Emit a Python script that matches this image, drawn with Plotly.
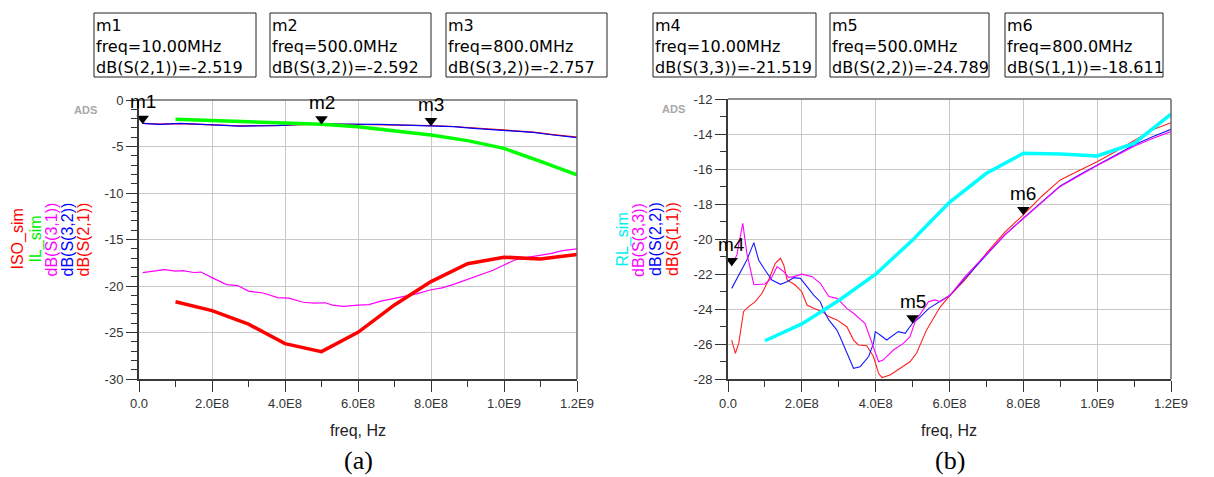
import numpy as np
import plotly.graph_objects as go

W, H = 1214, 477
FONT = "Arial, Liberation Sans, sans-serif"

# ---------------- panel (a): transmission / isolation ----------------
# frequencies in MHz
f_thin_a = [10, 58, 112, 213, 277, 377, 441, 500, 532, 660, 800, 861, 916, 1000, 1080, 1135, 1200]
s21_a = [-2.519, -2.60, -2.53, -2.66, -2.78, -2.74, -2.64, -2.60, -2.58, -2.64, -2.76, -2.85, -3.02, -3.20, -3.45, -3.72, -4.00]
s32_a = [-2.52, -2.62, -2.51, -2.69, -2.80, -2.76, -2.62, -2.592, -2.58, -2.62, -2.757, -2.87, -3.05, -3.23, -3.48, -3.76, -4.05]

f_s31 = [10, 30, 70, 100, 120, 150, 170, 200, 240, 270, 300, 340, 380, 410, 450, 480, 510,
         530, 560, 600, 630, 660, 700, 730, 760, 800, 830, 860, 900, 940, 970, 1000, 1030,
         1060, 1100, 1130, 1160, 1200]
s31_a = [-18.57, -18.45, -18.25, -18.40, -18.35, -18.55, -18.50, -19.10, -19.85, -19.95, -20.55,
         -20.75, -21.25, -21.30, -21.75, -21.85, -21.80, -22.05, -22.20, -22.05, -22.00, -21.65,
         -21.30, -21.10, -20.85, -20.40, -20.20, -19.85, -19.30, -18.70, -18.30, -17.75, -17.20,
         -16.95, -16.70, -16.50, -16.20, -16.00]

f_sim = [100, 200, 300, 400, 500, 600, 700, 800, 900, 1000, 1100, 1200]
il_sim = [-2.08, -2.20, -2.30, -2.45, -2.60, -2.87, -3.33, -3.76, -4.37, -5.20, -6.60, -8.06]
iso_sim = [-21.70, -22.65, -24.10, -26.20, -27.06, -24.98, -22.04, -19.53, -17.60, -16.90, -17.10, -16.60]

# ---------------- panel (b): return loss ----------------
f_s11 = [10, 20, 29, 42, 56, 74, 92, 110, 128, 142, 151, 160, 182, 200, 214, 232, 255, 273, 295,
         322, 340, 353, 376, 394, 408, 417, 439, 466, 493, 511, 538, 575, 602, 642, 700, 750, 800,
         850, 900, 950, 1000, 1050, 1100, 1150, 1200]
s11_b = [-25.76, -26.52, -25.95, -24.14, -23.85, -23.57, -23.09, -22.33, -21.38, -21.09, -21.47,
         -22.33, -22.62, -23.00, -23.76, -23.95, -24.14, -24.42, -24.61, -25.00, -25.76, -26.04,
         -26.08, -26.70, -27.66, -27.90, -27.75, -27.38, -27.00, -26.50, -25.18, -23.86, -23.19,
         -22.33, -20.80, -19.60, -18.611, -17.55, -16.62, -16.10, -15.58, -15.00, -14.40, -13.75,
         -13.35]

f_s22 = [10, 29, 51, 70, 83, 97, 119, 142, 160, 178, 196, 214, 232, 250, 259, 273, 295, 304, 322,
         340, 358, 381, 394, 399, 412, 430, 461, 480, 500, 517, 544, 566, 584, 602, 642, 700, 750,
         800, 850, 900, 950, 1000, 1050, 1100, 1150, 1200]
s22_b = [-22.81, -22.05, -21.19, -20.20, -21.19, -21.66, -22.33, -22.58, -22.43, -22.20, -22.24,
         -22.71, -23.19, -23.57, -24.04, -24.61, -25.19, -25.60, -26.50, -27.37, -27.28, -26.70,
         -25.95, -25.28, -25.47, -25.76, -25.28, -25.38, -24.789, -24.52, -23.95, -23.66, -23.47,
         -23.19, -22.24, -20.90, -19.75, -18.80, -17.90, -16.97, -16.35, -15.77, -15.20, -14.63,
         -14.15, -13.73]

f_s33 = [10, 24, 40, 51, 70, 100, 117, 133, 151, 164, 178, 200, 228, 250, 273, 295, 322, 340, 371,
         394, 408, 420, 448, 475, 493, 507, 530, 543, 561, 575, 602, 642, 700, 750, 800, 850, 900,
         950, 1000, 1050, 1100, 1150, 1200]
s33_b = [-21.519, -20.90, -19.10, -20.80, -22.60, -22.56, -22.24, -21.57, -21.85, -22.18, -22.14,
         -22.00, -22.14, -22.52, -23.28, -23.38, -23.95, -24.23, -24.80, -26.14, -27.00, -26.90,
         -26.33, -25.95, -25.57, -24.71, -23.95, -23.57, -23.47, -23.57, -23.19, -22.14, -20.85,
         -19.75, -18.82, -17.92, -16.99, -16.40, -15.80, -15.25, -14.70, -14.25, -13.86]

rl_sim = [-25.80, -24.84, -23.50, -22.00, -20.05, -17.90, -16.24, -15.10, -15.14, -15.25, -14.53, -12.87]

# ---------------- markers ----------------
mk_names = ["m1", "m2", "m3", "m4", "m5", "m6"]
mk_freq = [10.0, 500.0, 800.0, 10.0, 500.0, 800.0]          # MHz
mk_trace = ["dB(S(2,1))", "dB(S(3,2))", "dB(S(3,2))", "dB(S(3,3))", "dB(S(2,2))", "dB(S(1,1))"]
mk_value = [-2.519, -2.592, -2.757, -21.519, -24.789, -18.611]
mk_panel = [1, 1, 1, 2, 2, 2]
mk_box_left = [94, 270, 446, 653, 830, 1005]
mk_box_right = [256, 431, 607, 816, 989, 1163]

# axis ticks
x_ticks = [0, 2e8, 4e8, 6e8, 8e8, 1e9, 1.2e9]
x_tick_text = ["0.0", "2.0E8", "4.0E8", "6.0E8", "8.0E8", "1.0E9", "1.2E9"]
x_minor = [1e8, 3e8, 5e8, 7e8, 9e8, 1.1e9]
ya_ticks = [0, -5, -10, -15, -20, -25, -30]
yb_ticks = [-12, -14, -16, -18, -20, -22, -24, -26, -28]

legend_a = [("ISO_sim", "#ff0000"), ("IL_sim", "#00ee00"), ("dB(S(3,1))", "#ff00ff"),
            ("dB(S(3,2))", "#0000ff"), ("dB(S(2,1))", "#ff0000")]
legend_b = [("RL_sim", "#00f0f0"), ("dB(S(3,3))", "#ff00ff"), ("dB(S(2,2))", "#0000ff"),
            ("dB(S(1,1))", "#ff0000")]


def hz(mhz):
    return np.asarray(mhz, dtype=float) * 1e6


def px_x(p):
    """pixel -> paper x"""
    return p / W


def px_y(p):
    """pixel -> paper y"""
    return 1 - p / H


fig = go.Figure()


def line(x, y, color, width, axis):
    xa, ya = ("x", "y") if axis == 1 else ("x2", "y2")
    fig.add_trace(go.Scatter(x=hz(x), y=y, mode="lines", xaxis=xa, yaxis=ya,
                             line=dict(color=color, width=width), showlegend=False,
                             hoverinfo="skip"))


# panel (a)
line(f_thin_a, s21_a, "#ff0000", 1.2, 1)
line(f_thin_a, s32_a, "#0000ff", 1.2, 1)
line(f_s31, s31_a, "#ff00ff", 1.2, 1)
line(f_sim, il_sim, "#00ff00", 3.5, 1)
line(f_sim, iso_sim, "#ff0000", 3.5, 1)

# panel (b)
line(f_s11, s11_b, "#ff2020", 1.1, 2)
line(f_s22, s22_b, "#1a1aff", 1.1, 2)
line(f_s33, s33_b, "#ff00ff", 1.1, 2)
line(f_sim, rl_sim, "#00ffff", 3.5, 2)

# marker triangles: pointing down, tip resting on the trace
for p in (1, 2):
    sel = [i for i, q in enumerate(mk_panel) if q == p]
    fig.add_trace(go.Scatter(
        x=hz([mk_freq[i] for i in sel]), y=[mk_value[i] for i in sel], mode="markers",
        xaxis="x" if p == 1 else "x2", yaxis="y" if p == 1 else "y2",
        marker=dict(symbol="triangle-up", size=11, color="#000000", angle=180,
                    standoff=5, line=dict(width=0)),
        showlegend=False, hoverinfo="skip", cliponaxis=False))

tickfont = dict(family=FONT, size=13, color="#333333")


def xaxis_cfg(dom, anchor):
    return dict(domain=dom, anchor=anchor, range=[0, 1.2e9], tickmode="array",
                tickvals=x_ticks, ticktext=x_tick_text, ticks="outside", ticklen=11,
                tickcolor="#333333", tickwidth=1, tickfont=tickfont,
                showline=True, linecolor="#3a3a3a", linewidth=2,
                showgrid=True, gridcolor="#c8c8c8", gridwidth=1, zeroline=False,
                minor=dict(tickmode="array", tickvals=x_minor, ticks="outside", ticklen=6,
                           tickcolor="#333333", showgrid=False),
                fixedrange=True, automargin=False)


def yaxis_cfg(dom, anchor, rng, ticks, minor_step):
    lo, hi = rng
    minor_vals = [v for v in np.arange(lo, hi + 0.01, minor_step) if v not in ticks]
    return dict(domain=dom, anchor=anchor, range=rng, tickmode="array",
                tickvals=ticks, ticktext=[f"{t:d}" for t in ticks], ticks="outside",
                ticklen=11, tickcolor="#333333", tickwidth=1, tickfont=tickfont,
                showline=True, linecolor="#3a3a3a", linewidth=2,
                showgrid=True, gridcolor="#c8c8c8", gridwidth=1, zeroline=False,
                minor=dict(tickmode="array", tickvals=minor_vals, ticks="outside", ticklen=6,
                           tickcolor="#333333", showgrid=False),
                fixedrange=True, automargin=False)


shapes = []
annotations = []

# top / right frame edges
for xr, yr in (("x", "y"), ("x2", "y2")):
    shapes.append(dict(type="line", xref=f"{xr} domain", yref=f"{yr} domain",
                       x0=0, x1=1, y0=1, y1=1, line=dict(color="#6a6a6a", width=1.5)))
    shapes.append(dict(type="line", xref=f"{xr} domain", yref=f"{yr} domain",
                       x0=1, x1=1, y0=0, y1=1, line=dict(color="#6a6a6a", width=1.5)))

# marker readout boxes
for name, f, tr, v, xl, xr in zip(mk_names, mk_freq, mk_trace, mk_value, mk_box_left, mk_box_right):
    shapes.append(dict(type="rect", xref="paper", yref="paper", x0=px_x(xl), x1=px_x(xr),
                       y0=px_y(77), y1=px_y(13), line=dict(color="#222222", width=1)))
    ftxt = f"{f:.2f}MHz" if f < 100 else f"{f:.1f}MHz"
    text = "<br>".join([name, f"freq={ftxt}", f"{tr}={v:.3f}"])
    annotations.append(dict(xref="paper", yref="paper", x=px_x(xl + 1), y=px_y(46),
                            xanchor="left", yanchor="middle", align="left", showarrow=False,
                            text=text, borderpad=0,
                            font=dict(family="DejaVu Sans", size=16, color="#000000")))

# marker names above the triangles
for name, f, v, p in zip(mk_names, mk_freq, mk_value, mk_panel):
    xa, ya = ("x", "y") if p == 1 else ("x2", "y2")
    annotations.append(dict(xref=xa, yref=ya, x=f * 1e6, y=v, text=name, showarrow=False,
                            xanchor="center", yanchor="bottom", yshift=9,
                            font=dict(family=FONT, size=19, color="#000000")))

# rotated trace labels
for (txt, col), xc in zip(legend_a, [17, 35, 51, 67, 83]):
    annotations.append(dict(xref="paper", yref="paper", x=px_x(xc), y=px_y(239.5), text=txt,
                            textangle=-90, showarrow=False, xanchor="center", yanchor="middle",
                            font=dict(family=FONT, size=16, color=col)))
for (txt, col), xc in zip(legend_b, [622, 638.5, 655.5, 672.5]):
    annotations.append(dict(xref="paper", yref="paper", x=px_x(xc), y=px_y(239.5), text=txt,
                            textangle=-90, showarrow=False, xanchor="center", yanchor="middle",
                            font=dict(family=FONT, size=16, color=col)))

# ADS stamps
for xc, yc in ((85.5, 109.5), (673.5, 108.5)):
    annotations.append(dict(xref="paper", yref="paper", x=px_x(xc), y=px_y(yc), text="<b>ADS</b>",
                            showarrow=False, xanchor="center", yanchor="middle",
                            font=dict(family=FONT, size=11, color="#a8a8a8")))

# axis titles and captions
for xc in (357.5, 948.5):
    annotations.append(dict(xref="paper", yref="paper", x=px_x(xc), y=px_y(430), text="freq, Hz",
                            showarrow=False, xanchor="center", yanchor="middle",
                            font=dict(family=FONT, size=16, color="#222222")))
for xc, cap in ((358, "(a)"), (950, "(b)")):
    annotations.append(dict(xref="paper", yref="paper", x=px_x(xc), y=px_y(460), text=cap,
                            showarrow=False, xanchor="center", yanchor="middle",
                            font=dict(family="Liberation Serif, Times New Roman, serif", size=26,
                                      color="#000000")))

fig.update_layout(
    width=W, height=H, margin=dict(l=0, r=0, t=0, b=0), autosize=False,
    paper_bgcolor="#ffffff", plot_bgcolor="#ffffff", showlegend=False,
    xaxis=xaxis_cfg([px_x(139), px_x(577)], "y"),
    yaxis=yaxis_cfg([px_y(379), px_y(100)], "x", [-30, 0], ya_ticks, 1),
    xaxis2=xaxis_cfg([px_x(728), px_x(1171)], "y2"),
    yaxis2=yaxis_cfg([px_y(379.3), px_y(99)], "x2", [-28, -12], yb_ticks, 1),
    shapes=shapes, annotations=annotations,
)

# pin the graph to the top-left corner of the window
pin = (
    "var g=document.getElementById('{plot_id}');"
    "g.style.position='fixed';g.style.left='0px';g.style.top='0px';"
    "document.body.style.margin='0';document.documentElement.style.overflow='hidden';"
)

fig.write_html("out.html", config={"displayModeBar": False, "responsive": False},
               post_script=pin)
